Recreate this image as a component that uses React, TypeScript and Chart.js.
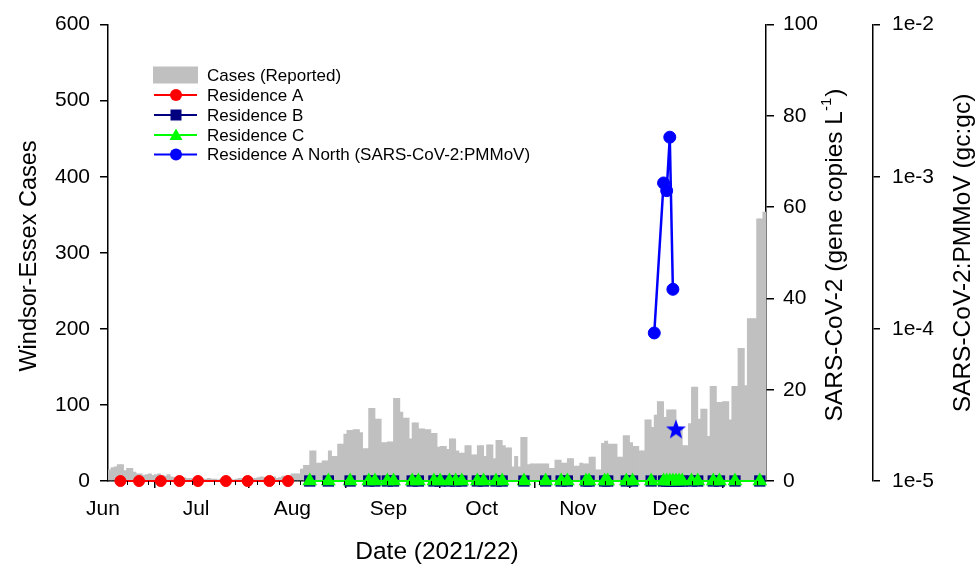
import React, { useEffect, useRef } from 'react';
import { Chart, registerables } from 'chart.js';

Chart.register(...registerables);

const FONT = '"Liberation Sans", Arial, Helvetica, sans-serif';

// Days counted from 1 June 2021
const monthTickDays = [0, 30, 61, 92, 122, 153, 183];
const monthLabels = ['Jun', 'Jul', 'Aug', 'Sep', 'Oct', 'Nov', 'Dec'];
const minorTickDays = [6, 13, 20, 27, 34, 41, 48, 55, 62, 69, 76, 83, 90, 97, 104, 111, 118, 125, 132, 139, 146, 153, 160, 167, 174, 181, 188, 195, 202, 209];

// Daily reported cases (Windsor-Essex), one value per day starting 1 June
const caseValues = [
  15, 18, 19, 22, 22, 14, 17, 17, 12, 10, 10, 8, 9, 10, 8, 9, 10, 8, 7, 9, 6, 5, 6,
  4, 5, 4, 4, 3, 4, 4, 3, 3, 4, 3, 3, 2, 3, 3, 2, 3, 2, 3, 4, 3, 3, 2, 3, 4, 5, 6,
  5, 6, 5, 6, 4, 5, 7, 6, 8, 10, 10, 10, 16, 21, 21, 40, 40, 24, 24, 27, 27, 40, 33, 33, 49, 49, 62,
  67, 67, 68, 68, 64, 43, 43, 96, 96, 82, 82, 51, 51, 52, 52, 109, 109, 91, 83, 83, 56, 77, 77, 69, 69, 68, 68,
  63, 63, 45, 46, 46, 42, 56, 56, 40, 37, 37, 47, 47, 35, 35, 47, 47, 33, 48, 48, 30, 54, 54, 47, 44, 44, 19, 33,
  19, 58, 58, 22, 23, 23, 23, 23, 23, 23, 17, 17, 28, 28, 24, 24, 30, 30, 20, 20, 24, 23, 23, 32, 32, 15, 15,
  50, 53, 49, 49, 49, 32, 32, 60, 60, 51, 46, 46, 40, 40, 81, 81, 71, 87, 105, 105, 84, 94, 94, 94, 70, 70, 47,
  47, 76, 124, 124, 82, 95, 95, 59, 125, 125, 104, 104, 105, 105, 81, 125, 125, 175, 175, 126, 214, 214, 214, 345, 345, 354,
];

// Residence sampling (SARS-CoV-2 gene copies per L)
const resADays = [4, 10, 17, 23, 29, 38, 45, 52, 58];
const resAValues = [0, 0, 0, 0, 0, 0, 0, 0, 0];
const resBDays = [65, 71, 78, 84, 86, 90, 92, 98, 100, 105, 107, 110, 112, 114, 119, 121, 125, 127, 134, 141, 146, 148, 154, 155, 160, 161, 167, 169, 175, 179, 180, 181, 182, 183, 184, 185, 188, 190, 195, 197, 202, 210];
const resBValues = [0, 0, 0, 0, 0, 0, 0, 0, 0, 0, 0, 0, 0, 0, 0, 0, 0, 0, 0, 0, 0, 0, 0, 0, 0, 0, 0, 0, 0, 0, 0, 0, 0, 0, 0, 0, 0, 0, 0, 0, 0, 0];
const resCDays = [65, 71, 78, 84, 86, 90, 92, 98, 100, 105, 107, 110, 112, 114, 119, 121, 125, 127, 134, 141, 146, 148, 154, 155, 160, 161, 167, 169, 175, 179, 180, 181, 182, 183, 184, 185, 188, 190, 195, 197, 202, 210];
const resCValues = [0, 0, 0, 0, 0, 0, 0, 0, 0, 0, 0, 0, 0, 0, 0, 0, 0, 0, 0, 0, 0, 0, 0, 0, 0, 0, 0, 0, 0, 0, 0, 0, 0, 0, 0, 0, 0, 0, 0, 0, 0, 0];

// Residence A North (SARS-CoV-2:PMMoV, gc:gc)
const northDays = [176, 179, 180, 181, 182];
const northRatio = [9.4e-5, 9.1e-4, 8.1e-4, 1.82e-3, 1.82e-4];

// Single starred sample (gene copies per L)
const starDays = [183];
const starValues = [11.3];

const leftTicks = [0, 100, 200, 300, 400, 500, 600];
const geneTicks = [0, 20, 40, 60, 80, 100];
const ratioTicks = [1e-5, 1e-4, 1e-3, 1e-2];
const ratioTickLabels = ['1e-5', '1e-4', '1e-3', '1e-2'];

const legendLabels = ['Cases (Reported)', 'Residence A', 'Residence B', 'Residence C', 'Residence A North (SARS-CoV-2:PMMoV)'];

const GRAY = '#c0c0c0';
const RED = '#ff0000';
const NAVY = '#000080';
const GREEN = '#00ff00';
const BLUE = '#0000ff';

function makeStar(): HTMLCanvasElement {
  const c = document.createElement('canvas');
  c.width = 24;
  c.height = 24;
  const g = c.getContext('2d')!;
  const cx = 12, cy = 12.5, ro = 10.5, ri = 4.3;
  g.beginPath();
  for (let i = 0; i < 10; i++) {
    const r = i % 2 === 0 ? ro : ri;
    const a = -Math.PI / 2 + (i * Math.PI) / 5;
    const px = cx + r * Math.cos(a);
    const py = cy + r * Math.sin(a);
    if (i === 0) g.moveTo(px, py); else g.lineTo(px, py);
  }
  g.closePath();
  g.fillStyle = BLUE;
  g.fill();
  return c;
}

function drawMarker(ctx: CanvasRenderingContext2D, kind: string, x: number, y: number, color: string) {
  ctx.fillStyle = color;
  ctx.beginPath();
  if (kind === 'circle') {
    ctx.arc(x, y, 6, 0, Math.PI * 2);
  } else if (kind === 'rect') {
    ctx.rect(x - 5.5, y - 5.5, 11, 11);
  } else if (kind === 'triangle') {
    ctx.moveTo(x, y - 6.5);
    ctx.lineTo(x + 6.5, y + 5);
    ctx.lineTo(x - 6.5, y + 5);
    ctx.closePath();
  }
  ctx.fill();
}

const overlayPlugin = {
  id: 'overlay',
  afterDraw(chart: any) {
    const ctx: CanvasRenderingContext2D = chart.ctx;
    const xs = chart.scales.x;
    const area = chart.chartArea;
    ctx.save();

    // minor x ticks
    ctx.strokeStyle = '#000';
    ctx.lineWidth = 1;
    minorTickDays.forEach((d) => {
      const px = Math.round(xs.getPixelForValue(d)) + 0.5;
      ctx.beginPath();
      ctx.moveTo(px, area.bottom);
      ctx.lineTo(px, area.bottom + 4);
      ctx.stroke();
    });

    // legend
    const rowY = [75, 95, 115, 135, 154.5];
    const symL = 154, symR = 197, symC = 176, textX = 207;
    ctx.font = `17px ${FONT}`;
    ctx.textBaseline = 'middle';
    ctx.textAlign = 'left';
    ctx.fillStyle = GRAY;
    ctx.fillRect(153, rowY[0] - 8.5, 45, 17);
    const lineRows: [string, string][] = [
      [RED, 'circle'],
      [NAVY, 'rect'],
      [GREEN, 'triangle'],
      [BLUE, 'circle'],
    ];
    lineRows.forEach(([color, kind], i) => {
      const y = rowY[i + 1];
      ctx.strokeStyle = color;
      ctx.lineWidth = 2;
      ctx.beginPath();
      ctx.moveTo(symL, y);
      ctx.lineTo(symR, y);
      ctx.stroke();
      drawMarker(ctx, kind, symC, y, color);
    });
    ctx.fillStyle = '#000';
    legendLabels.forEach((t, i) => ctx.fillText(t, textX, rowY[i] + 1));

    // axis titles
    const titleFont = `23.5px ${FONT}`;
    const rightTitleFont = `24.5px ${FONT}`;
    ctx.fillStyle = '#000';
    ctx.textAlign = 'center';
    ctx.textBaseline = 'middle';
    ctx.font = `24.5px ${FONT}`;
    ctx.fillText('Date (2021/22)', (area.left + area.right) / 2, 552);

    const vText = (text: string, cx: number, cy: number) => {
      ctx.save();
      ctx.translate(cx, cy);
      ctx.rotate(-Math.PI / 2);
      ctx.fillText(text, 0, 0);
      ctx.restore();
    };
    ctx.font = titleFont;
    vText('Windsor-Essex Cases', 30, 256);
    ctx.font = rightTitleFont;
    vText('SARS-CoV-2:PMMoV (gc:gc)', 963, 253);

    // gene copies title with superscript
    ctx.save();
    ctx.translate(835, 255);
    ctx.rotate(-Math.PI / 2);
    const main = 'SARS-CoV-2 (gene copies L';
    const sup = '-1';
    const close = ')';
    ctx.font = rightTitleFont;
    const wMain = ctx.measureText(main).width;
    const wClose = ctx.measureText(close).width;
    ctx.font = `15px ${FONT}`;
    const wSup = ctx.measureText(sup).width;
    const total = wMain + wSup + wClose + 1;
    let x0 = -total / 2;
    ctx.textAlign = 'left';
    ctx.font = rightTitleFont;
    ctx.fillText(main, x0, 0);
    x0 += wMain;
    ctx.font = `15px ${FONT}`;
    ctx.fillText(sup, x0, -8);
    x0 += wSup + 1;
    ctx.font = rightTitleFont;
    ctx.fillText(close, x0, 0);
    ctx.restore();

    ctx.restore();
  },
};

export default function App() {
  const canvasRef = useRef<HTMLCanvasElement | null>(null);

  useEffect(() => {
    if (!canvasRef.current) return;
    Chart.defaults.font.family = FONT;
    Chart.defaults.color = '#000';
    const star = makeStar();

    const axisCommon = {
      border: { display: true, color: '#000', width: 1.5 },
    };

    const chart = new Chart(canvasRef.current, {
      type: 'bar',
      data: {
        datasets: [
          {
            type: 'bar',
            label: legendLabels[0],
            data: caseValues.map((v, i) => ({ x: i + 0.5, y: v })),
            backgroundColor: GRAY,
            borderWidth: 0,
            inflateAmount: 0,
            barThickness: 4,
            xAxisID: 'x',
            yAxisID: 'y',
            order: 10,
          } as any,
          {
            type: 'line',
            label: legendLabels[1],
            data: resADays.map((d, i) => ({ x: d, y: resAValues[i] })),
            borderColor: RED,
            backgroundColor: RED,
            borderWidth: 2,
            pointRadius: 5.5,
            pointBorderWidth: 1,
            pointStyle: 'circle',
            yAxisID: 'y2',
            clip: false,
            order: 5,
          },
          {
            type: 'line',
            label: legendLabels[2],
            data: resBDays.map((d, i) => ({ x: d, y: resBValues[i] })),
            borderColor: NAVY,
            backgroundColor: NAVY,
            borderWidth: 2,
            pointRadius: 8,
            pointBorderWidth: 0,
            pointStyle: 'rect',
            yAxisID: 'y2',
            clip: false,
            order: 4,
          },
          {
            type: 'line',
            label: legendLabels[3],
            data: resCDays.map((d, i) => ({ x: d, y: resCValues[i] })),
            borderColor: GREEN,
            backgroundColor: GREEN,
            borderWidth: 2,
            pointRadius: 8.5,
            pointBorderWidth: 0,
            pointStyle: 'triangle',
            yAxisID: 'y2',
            clip: false,
            order: 3,
          },
          {
            type: 'line',
            label: legendLabels[4],
            data: northDays.map((d, i) => ({ x: d, y: northRatio[i] })),
            borderColor: BLUE,
            backgroundColor: BLUE,
            borderWidth: 2.5,
            pointRadius: 6,
            pointBorderWidth: 1,
            pointStyle: 'circle',
            yAxisID: 'y3',
            clip: false,
            order: 2,
          },
          {
            type: 'line',
            label: 'star',
            data: starDays.map((d, i) => ({ x: d, y: starValues[i] })),
            showLine: false,
            pointStyle: star as any,
            pointRadius: 10,
            yAxisID: 'y2',
            clip: false,
            order: 1,
          },
        ],
      },
      options: {
        animation: false,
        responsive: true,
        maintainAspectRatio: false,
        events: [],
        layout: { padding: { top: 22, left: 0, right: 0, bottom: 0 } },
        plugins: {
          legend: { display: false },
          tooltip: { enabled: false },
          title: { display: false },
        },
        scales: {
          x: {
            ...axisCommon,
            type: 'linear',
            position: 'bottom',
            min: 0,
            max: 212,
            offset: false,
            grid: { display: true, drawOnChartArea: false, drawTicks: true, tickLength: 7, color: '#000', lineWidth: 1.5 },
            ticks: {
              autoSkip: false,
              maxRotation: 0,
              padding: 9,
              labelOffset: -5,
              color: '#000',
              font: { size: 21, family: FONT },
              callback: (value: any) => {
                const i = monthTickDays.indexOf(Number(value));
                return i >= 0 ? monthLabels[i] : '';
              },
            },
            afterBuildTicks: (s: any) => {
              s.ticks = monthTickDays.map((v) => ({ value: v }));
            },
            afterFit: (s: any) => {
              s.height = 86;
            },
          },
          y: {
            ...axisCommon,
            type: 'linear',
            position: 'left',
            min: 0,
            max: 600,
            grid: { display: true, drawOnChartArea: false, drawTicks: true, tickLength: 8, color: '#000', lineWidth: 1.5 },
            ticks: { padding: 10, color: '#000', font: { size: 21, family: FONT } },
            afterBuildTicks: (s: any) => {
              s.ticks = leftTicks.map((v) => ({ value: v }));
            },
            afterFit: (s: any) => {
              s.width = 108;
            },
          },
          y2: {
            ...axisCommon,
            type: 'linear',
            position: 'right',
            weight: 1,
            min: 0,
            max: 100,
            grid: { display: true, drawOnChartArea: false, drawTicks: true, tickLength: 8, color: '#000', lineWidth: 1.5 },
            ticks: { padding: 9, color: '#000', font: { size: 21, family: FONT } },
            afterBuildTicks: (s: any) => {
              s.ticks = geneTicks.map((v) => ({ value: v }));
            },
            afterFit: (s: any) => {
              s.width = 107;
            },
          },
          y3: {
            ...axisCommon,
            type: 'logarithmic',
            position: 'right',
            weight: 2,
            min: 1e-5,
            max: 1e-2,
            grid: { display: true, drawOnChartArea: false, drawTicks: true, tickLength: 7, color: '#000', lineWidth: 1.5 },
            ticks: {
              padding: 12,
              color: '#000',
              font: { size: 21, family: FONT },
              callback: (value: any) => {
                const v = Number(value);
                const i = ratioTicks.findIndex((t) => Math.abs(Math.log10(t) - Math.log10(v)) < 1e-6);
                return i >= 0 ? ratioTickLabels[i] : '';
              },
            },
            afterBuildTicks: (s: any) => {
              s.ticks = ratioTicks.map((v) => ({ value: v }));
            },
            afterFit: (s: any) => {
              s.width = 106;
            },
          },
        } as any,
      },
      plugins: [overlayPlugin],
    } as any);

    return () => {
      chart.destroy();
    };
  }, []);

  return (
    <div style={{ position: 'fixed', left: 0, top: 0, width: 979, height: 567, background: '#fff' }}>
      <canvas ref={canvasRef} />
    </div>
  );
}
